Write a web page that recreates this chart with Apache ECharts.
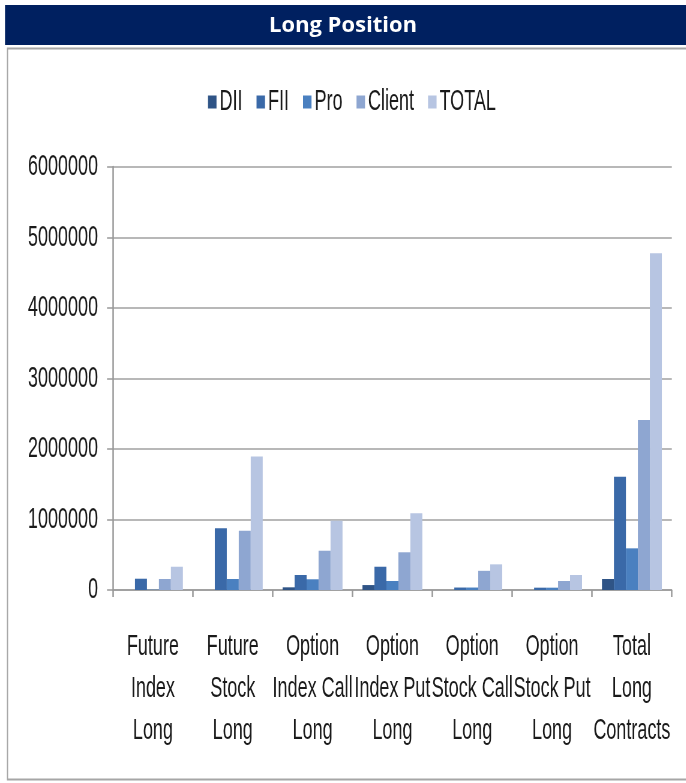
<!DOCTYPE html>
<html>
<head>
<meta charset="utf-8">
<script src="https://cdn.jsdelivr.net/npm/echarts@6/dist/echarts.min.js"></script>
<style>
  html, body { margin: 0; padding: 0; background: #ffffff; overflow: hidden; }
  #wrap { width: 686px; height: 783px; overflow: hidden; }
  /* the chart is laid out wide and compressed horizontally for condensed lettering */
  #chart { width: 1143px; height: 783px; transform: scaleX(0.6); transform-origin: 0 0; }
</style>
</head>
<body>
<div id="wrap"><div id="chart"></div></div>
<script>
// Long position contracts by participant type
const categories = [
  'Future\nIndex\nLong',
  'Future\nStock\nLong',
  'Option\nIndex Call\nLong',
  'Option\nIndex Put\nLong',
  'Option\nStock Call\nLong',
  'Option\nStock Put\nLong',
  'Total\nLong\nContracts'
];
const seriesNames = ['DII', 'FII', 'Pro', 'Client', 'TOTAL'];
const dii    = [0, 0, 38000, 70000, 0, 0, 156000];
const fii    = [160000, 875000, 213000, 330000, 35000, 33000, 1607000];
const pro    = [5000, 156000, 152000, 128000, 35000, 33000, 591000];
const client = [156000, 841000, 557000, 535000, 272000, 128000, 2411000];
const total  = [330000, 1895000, 983000, 1088000, 364000, 213000, 4776000];
const yTicks = [0, 1000000, 2000000, 3000000, 4000000, 5000000, 6000000];

const seriesValues = [dii, fii, pro, client, total];
const colors = ['#2F5486', '#3A69A8', '#4A80C0', '#8EA6D1', '#B7C5E2'];
const SX = 0.6;                 // horizontal compression applied to the canvas
const px = v => v / SX;         // convert page x-distance to canvas x-distance
const face = "'Liberation Sans', Arial, sans-serif";

const chart = echarts.init(document.getElementById('chart'), null, { renderer: 'canvas' });

chart.setOption({
  animation: false,
  backgroundColor: '#ffffff',
  color: colors,
  graphic: [
    {
      type: 'rect', z: 0,
      shape: { x: px(5), y: 5, width: px(681), height: 40 },
      style: { fill: '#002060' }
    },
    {
      type: 'text', z: 1,
      x: px(343), y: 26,
      scaleX: 1 / SX,
      style: {
        text: 'Long Position',
        fill: '#ffffff',
        font: "bold 22px 'Open Sans', sans-serif",
        align: 'center',
        verticalAlign: 'middle'
      }
    },
    {
      type: 'rect', z: 0,
      shape: { x: px(7.5), y: 48.5, width: px(690), height: 731 },
      style: { fill: 'none', stroke: '#a6a6a6', lineWidth: 2 }
    }
  ],
  legend: {
    top: 82,
    left: px(205),
    itemWidth: px(8.5),
    itemHeight: 13,
    itemGap: px(14),
    icon: 'rect',
    textStyle: { fontFamily: face, fontSize: 30, color: '#1a1a1a' },
    data: seriesNames
  },
  grid: { left: px(113), right: px(14), top: 167, bottom: 193, containLabel: false },
  xAxis: {
    type: 'category',
    data: categories,
    axisLine: { lineStyle: { color: '#999999', width: 1.5 } },
    axisTick: { show: true, length: 7, alignWithLabel: false, lineStyle: { color: '#999999', width: 2.5 } },
    axisLabel: {
      interval: 0,
      margin: 36,
      fontFamily: face,
      fontSize: 30,
      lineHeight: 42,
      color: '#1a1a1a',
      align: 'center'
    }
  },
  yAxis: {
    type: 'value',
    min: yTicks[0],
    max: yTicks[yTicks.length - 1],
    interval: yTicks[1] - yTicks[0],
    axisLine: { show: true, lineStyle: { color: '#999999', width: 2.5 } },
    axisTick: { show: true, inside: false, length: px(6), lineStyle: { color: '#999999', width: 1.5 } },
    splitLine: { show: true, lineStyle: { color: '#a0a0a0', width: 1.5 } },
    axisLabel: {
      margin: px(15),
      fontFamily: face,
      fontSize: 30,
      color: '#1a1a1a',
      formatter: v => String(v)
    }
  },
  series: seriesNames.map((name, i) => ({
    name: name,
    type: 'bar',
    data: seriesValues[i],
    barGap: '0%',
    barCategoryGap: '25%',
    itemStyle: { color: colors[i] }
  }))
});
</script>
</body>
</html>
